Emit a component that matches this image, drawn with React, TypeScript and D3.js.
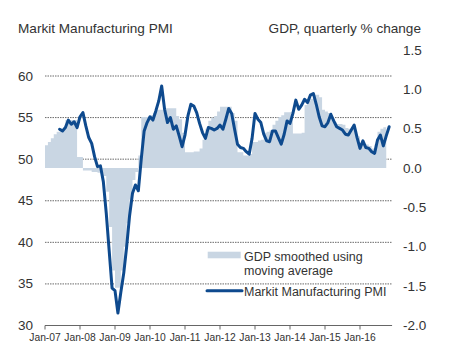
import React from "react";
import * as d3 from "d3";

const tickLabels = ["Jan-07", "Jan-08", "Jan-09", "Jan-10", "Jan-11", "Jan-12", "Jan-13", "Jan-14", "Jan-15", "Jan-16"];
const leftTicks = [30, 35, 40, 45, 50, 55, 60];
const rightTicks = [-2.0, -1.5, -1.0, -0.5, 0.0, 0.5, 1.0, 1.5];

// GDP smoothed, monthly from Jan-07 (month index 0)
const gdpValues = [
  0.29, 0.33, 0.38, 0.43, 0.46, 0.48, 0.49, 0.61, 0.61, 0.61, 0.61, 0.14,
  0.14, -0.03, -0.03, -0.03, -0.05, -0.05, -0.06, -0.07, -0.1, -0.3, -0.75, -1.3,
  -1.52, -1.52, -1.3, -1.0, -0.7, -0.4, -0.15, -0.05, 0.16, 0.65, 0.65, 0.65,
  0.67, 0.7, 0.74, 0.74, 0.74, 0.76, 0.76, 0.76, 0.76, 0.66, 0.62, 0.45,
  0.2, 0.2, 0.2, 0.21, 0.21, 0.25, 0.36, 0.5, 0.6, 0.64, 0.66, 0.72,
  0.78, 0.78, 0.78, 0.78, 0.7, 0.6, 0.2, 0.2, 0.16, 0.16, 0.18, 0.33,
  0.33, 0.35, 0.36, 0.45, 0.46, 0.48, 0.55, 0.6, 0.65, 0.67, 0.71, 0.71,
  0.71, 0.44, 0.44, 0.44, 0.45, 0.8, 0.86, 0.88, 0.93, 0.93, 0.9, 0.74,
  0.72, 0.7, 0.65, 0.58, 0.56, 0.56, 0.55, 0.51, 0.5, 0.49, 0.48, 0.4,
  0.32, 0.3, 0.3, 0.28, 0.25, 0.3, 0.46, 0.5, 0.52,
];

// Markit Manufacturing PMI, monthly starting Jun-07 (month index 5)
const pmiStart = 5;
const pmiValues = [
  53.6, 53.4, 53.8, 54.7, 54.2, 54.5, 53.8,
  55.1, 55.6, 54.0, 52.6, 51.9, 50.3, 49.1, 49.2, 47.3, 43.5, 39.0, 34.5,
  34.2, 31.5, 34.0, 36.3, 39.5, 43.2, 45.9, 46.9, 46.2, 50.0, 53.4, 54.4,
  55.1, 54.7, 55.8, 57.0, 58.8, 56.0, 54.4, 55.0, 53.6, 54.0, 52.8, 51.5,
  52.9, 55.2, 56.6, 56.4, 55.6, 54.3, 53.2, 52.5, 53.8, 53.7, 53.5, 53.7,
  54.1, 53.6, 54.8, 56.1, 55.5, 53.6, 51.8, 51.4, 51.3, 50.9, 50.6, 52.5,
  55.5, 54.8, 54.4, 53.0, 52.2, 52.1, 53.4, 53.4, 52.6, 51.8, 53.0, 54.6,
  54.3, 55.5, 57.1, 56.0, 56.5, 57.2, 56.8, 57.7, 57.9, 56.6, 55.1, 54.0,
  53.9, 54.4, 55.4, 54.6, 53.9, 53.7, 53.5, 53.0, 52.9, 53.5, 54.1, 52.6,
  51.3, 52.2, 51.4, 51.3, 50.9, 50.7, 52.3, 52.9, 51.6, 52.8, 53.9,
];

const W = 462;
const H = 355;
const FONT = "'Liberation Sans', Arial, sans-serif";
const TEXT = "#333";
const AREA = "#c9d6e3";
const LINE = "#0e4a8e";

export default function App() {
  const x = d3.scaleLinear().domain([0, 120]).range([45, 395]);
  const yL = d3.scaleLinear().domain([30, 60]).range([325.5, 76]);
  const yR = d3.scaleLinear().domain([-2, 1.5]).range([325.5, 50]);

  const gdpPts: [number, number][] = gdpValues.map((v, i) => [i, v]);
  gdpPts.push([gdpValues.length, gdpValues[gdpValues.length - 1]]);
  const area = d3
    .area<[number, number]>()
    .x((d) => x(d[0]))
    .y0(yR(0))
    .y1((d) => yR(d[1]))
    .curve(d3.curveStepAfter);

  const line = d3
    .line<number>()
    .x((_, i) => x(pmiStart + i))
    .y((d) => yL(d));

  const axisEnd = x(119);

  return (
    <svg
      width={W}
      height={H}
      style={{ position: "absolute", left: 0, top: 0, background: "#fff" }}
      fontFamily={FONT}
    >
      <text x={18} y={32.5} fontSize={13.6} fill={TEXT}>
        Markit Manufacturing PMI
      </text>
      <text x={421} y={32.5} fontSize={13.6} fill={TEXT} textAnchor="end">
        GDP, quarterly % change
      </text>

      {leftTicks
        .filter((t) => t > 30)
        .map((t) => (
          <line
            key={"g" + t}
            x1={x(0)}
            x2={axisEnd}
            y1={yL(t)}
            y2={yL(t)}
            stroke="#444"
            strokeWidth={0.8}
            strokeDasharray="1.5,1"
          />
        ))}

      <path d={area(gdpPts) || ""} fill={AREA} />
      <path
        d={line(pmiValues) || ""}
        fill="none"
        stroke={LINE}
        strokeWidth={3}
        strokeLinejoin="round"
        strokeLinecap="round"
      />

      {/* x axis */}
      <line x1={x(0)} x2={axisEnd} y1={yL(30)} y2={yL(30)} stroke="#666" strokeWidth={1} />
      {tickLabels.map((lab, i) => (
        <g key={lab} transform={`translate(${x(i * 12)},0)`}>
          <line y1={yL(30)} y2={yL(30) + 4} stroke="#666" strokeWidth={1} />
          <text y={341} fontSize={10.3} fill={TEXT} textAnchor="middle">
            {lab}
          </text>
        </g>
      ))}

      {leftTicks.map((t) => (
        <text key={"l" + t} x={33} y={yL(t) + 4.5} fontSize={13.5} fill={TEXT} textAnchor="end">
          {t}
        </text>
      ))}
      {rightTicks.map((t) => (
        <text key={"r" + t} x={403} y={yR(t) + 4.5} fontSize={13.5} fill={TEXT}>
          {t.toFixed(1)}
        </text>
      ))}

      {/* legend */}
      <rect x={207.7} y={251.7} width={33} height={6.6} fill={AREA} />
      <text x={244} y={260.5} fontSize={12.5} fill={TEXT}>
        GDP smoothed using
      </text>
      <text x={244} y={274.5} fontSize={12.5} fill={TEXT}>
        moving average
      </text>
      <line x1={207} x2={242} y1={290.7} y2={290.7} stroke={LINE} strokeWidth={3} strokeLinecap="round" />
      <text x={244} y={296} fontSize={12.5} fill={TEXT}>
        Markit Manufacturing PMI
      </text>
    </svg>
  );
}
